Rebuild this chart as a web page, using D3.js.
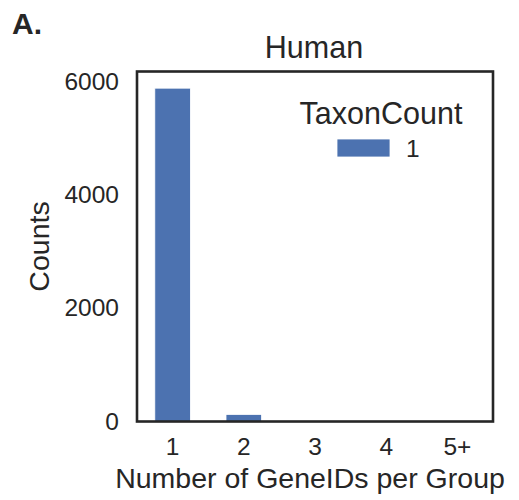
<!DOCTYPE html>
<html>
<head>
<meta charset="utf-8">
<script src="https://cdn.jsdelivr.net/npm/d3@7"></script>
<style>
  html, body { margin: 0; padding: 0; background: #fff; }
  svg { display: block; font-family: "Liberation Sans", Arial, Helvetica, sans-serif; }
</style>
</head>
<body>
<svg id="chart" width="519" height="500"></svg>
<script>
// Groups binned by how many GeneIDs they contain (human, TaxonCount = 1)
const categories = ["1", "2", "3", "4", "5+"];
const counts = [5880, 125, 0, 0, 0];
const yTicks = [0, 2000, 4000, 6000];
const seriesName = "1";
const legendTitle = "TaxonCount";
const panelLabel = "A.";
const chartTitle = "Human";
const xLabel = "Number of GeneIDs per Group";
const yLabel = "Counts";

const svg = d3.select("#chart");
const frame = { left: 137, right: 493, top: 71.5, bottom: 421.5 };
const ink = "#262626";
const barColor = "#4c72b0";

const x = d3.scaleBand()
  .domain(categories)
  .range([frame.left, frame.right])
  .paddingInner(0.5)
  .paddingOuter(0.25);

const y = d3.scaleLinear()
  .domain([0, d3.max(counts) * 1.05])
  .range([frame.bottom, frame.top]);

// bars
svg.append("g")
  .selectAll("rect")
  .data(categories.map((c, i) => ({ c, v: counts[i] })))
  .join("rect")
  .attr("x", d => x(d.c))
  .attr("width", x.bandwidth())
  .attr("y", d => y(d.v))
  .attr("height", d => y(0) - y(d.v))
  .attr("fill", barColor)
  .attr("stroke", "#ffffff")
  .attr("stroke-width", 0.8);

// axes (labels only, no tick marks)
const yAxis = svg.append("g")
  .attr("transform", `translate(${frame.left},0)`)
  .call(d3.axisLeft(y).tickValues(yTicks).tickSize(0).tickPadding(18).tickFormat(d3.format("d")));
yAxis.select(".domain").remove();
yAxis.selectAll("text")
  .attr("font-size", 24.5)
  .attr("fill", ink)
  .attr("font-family", "Liberation Sans, Arial, sans-serif");

const xAxis = svg.append("g")
  .attr("transform", `translate(0,${frame.bottom})`)
  .call(d3.axisBottom(x).tickSize(0).tickPadding(16));
xAxis.select(".domain").remove();
xAxis.selectAll("text")
  .attr("font-size", 24.5)
  .attr("fill", ink)
  .attr("font-family", "Liberation Sans, Arial, sans-serif");

// frame around the plot area
svg.append("rect")
  .attr("x", frame.left)
  .attr("y", frame.top)
  .attr("width", frame.right - frame.left)
  .attr("height", frame.bottom - frame.top)
  .attr("fill", "none")
  .attr("stroke", ink)
  .attr("stroke-width", 2.6);

// titles and axis labels
svg.append("text")
  .attr("x", 12).attr("y", 34)
  .attr("font-size", 30).attr("font-weight", "bold")
  .attr("fill", ink)
  .text(panelLabel);

svg.append("text")
  .attr("x", 314).attr("y", 58)
  .attr("text-anchor", "middle")
  .attr("font-size", 30.5)
  .attr("fill", ink)
  .text(chartTitle);

svg.append("text")
  .attr("x", 310).attr("y", 488)
  .attr("text-anchor", "middle")
  .attr("font-size", 28.5)
  .attr("fill", ink)
  .text(xLabel);

svg.append("text")
  .attr("transform", `translate(49,${(frame.top + frame.bottom) / 2}) rotate(-90)`)
  .attr("text-anchor", "middle")
  .attr("font-size", 28.5)
  .attr("fill", ink)
  .text(yLabel);

// legend
const legend = svg.append("g");
legend.append("text")
  .attr("x", 381).attr("y", 124)
  .attr("text-anchor", "middle")
  .attr("font-size", 30.5)
  .attr("fill", ink)
  .text(legendTitle);
legend.append("rect")
  .attr("x", 337).attr("y", 139)
  .attr("width", 53).attr("height", 18)
  .attr("fill", barColor)
  .attr("stroke", "#ffffff")
  .attr("stroke-width", 0.8);
legend.append("text")
  .attr("x", 406).attr("y", 157)
  .attr("font-size", 24.5)
  .attr("fill", ink)
  .text(seriesName);
</script>
</body>
</html>
